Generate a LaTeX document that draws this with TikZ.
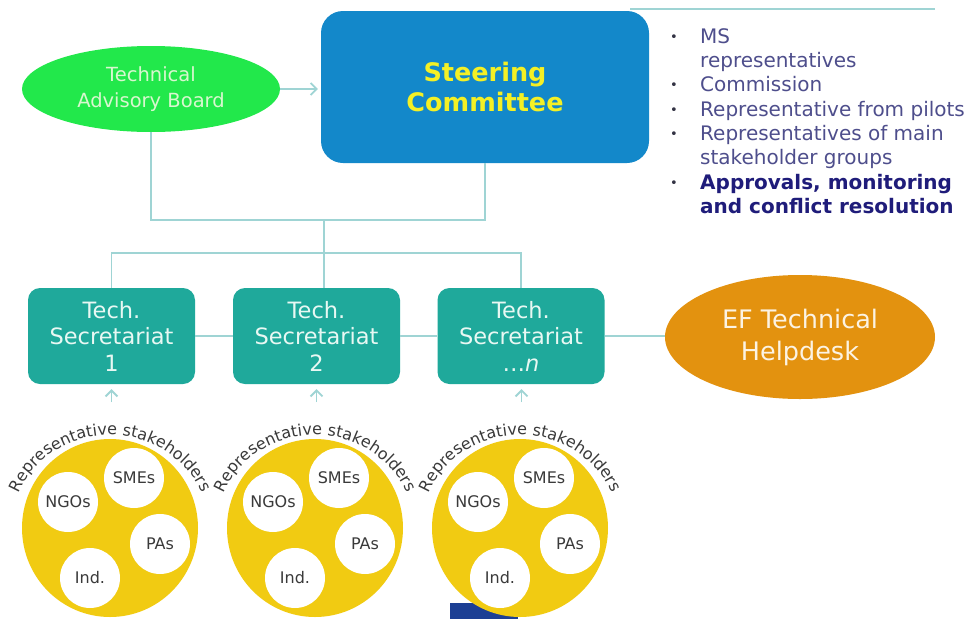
\documentclass[tikz,border=0pt]{standalone}
\usepackage{fontspec}
\setmainfont{DejaVu Sans}
\usetikzlibrary{arrows.meta,shapes.geometric,decorations.text}
\definecolor{connC}{HTML}{9FD4D4}
\definecolor{tabC}{HTML}{22E84B}
\definecolor{tabText}{HTML}{D9F7CF}
\definecolor{scC}{HTML}{1388CA}
\definecolor{scText}{HTML}{F4F025}
\definecolor{tsC}{HTML}{1FA99B}
\definecolor{tsText}{HTML}{E8F8F3}
\definecolor{hdC}{HTML}{E3920F}
\definecolor{hdText}{HTML}{FCF3E3}
\definecolor{bulC}{HTML}{4E4E8C}
\definecolor{boldC}{HTML}{1F1C7A}
\definecolor{dotC}{HTML}{333344}
\definecolor{yelC}{HTML}{F1CB12}
\definecolor{stkText}{HTML}{3A3A3A}
\definecolor{flagC}{HTML}{1C3F94}
\newcommand\rsfont{\fontsize{16}{16}\selectfont\color{stkText}}
\newcommand\bulmark{\makebox[30pt][l]{\raisebox{2pt}{\fontsize{13}{13}\selectfont\color{dotC}•}}}
\newcommand\nobul{\makebox[30pt][l]{}}
\begin{document}
\begin{tikzpicture}[x=1pt,y=1pt,
  connector/.style={draw=connC, line width=1.8pt},
  uptip/.style={-{Straight Barb[length=6pt,width=12pt]}},
  tsbox/.style={rectangle, rounded corners=12pt, fill=tsC, minimum width=167pt,
    minimum height=96pt, text=tsText, align=center, inner sep=0pt,
    font=\fontsize{22.5}{26.5}\selectfont},
  yellowell/.style={ellipse, fill=yelC, minimum width=176pt, minimum height=178pt, inner sep=0pt},
  whitec/.style={circle, fill=white, minimum size=60pt, inner sep=0pt, text=stkText,
    font=\fontsize{16}{16}\selectfont}
]
\useasboundingbox (0,0) rectangle (970,-619);
\fill[white] (0,0) rectangle (970,-619);

% top line behind steering committee
\coordinate (tl1) at (630,-9);
\coordinate (tl2) at (935,-9);
\draw[connector] (tl1) -- (tl2);

% main nodes
\node[ellipse, fill=tabC, minimum width=258pt, minimum height=86pt, inner sep=0pt,
  text=tabText, align=center, font=\fontsize{19.5}{26}\selectfont] (tab) at (151,-89)
  {Technical\\Advisory Board};
\node[rectangle, rounded corners=22pt, fill=scC, minimum width=328pt, minimum height=152pt,
  inner sep=0pt, text=scText, align=center, font=\bfseries\fontsize{25.5}{30}\selectfont]
  (sc) at (485,-87) {Steering\\Committee};

\node[tsbox] (ts1) at (111.5,-336) {Tech.\\Secretariat\\1};
\node[tsbox] (ts2) at (316.5,-336) {Tech.\\Secretariat\\2};
\node[tsbox] (tsn) at (521,-336) {Tech.\\Secretariat\\…\textit{n}};

\node[ellipse, fill=hdC, minimum width=270pt, minimum height=124pt, inner sep=0pt,
  text=hdText, align=center, font=\fontsize{25.5}{32}\selectfont] (hd) at (800,-337)
  {EF Technical\\Helpdesk};

% bullets
\node[anchor=north west, inner sep=0pt, text=bulC, font=\fontsize{20}{24.3}\selectfont]
  (bul) at (670,-26) {\begin{tabular}{@{}l@{}}
\bulmark MS\\
\nobul representatives\\
\bulmark Commission\\
\bulmark Representative from pilots\\
\bulmark Representatives of main\\
\nobul stakeholder groups\\
\bulmark \textbf{\color{boldC}Approvals, monitoring}\\
\nobul \textbf{\color{boldC}and conflict resolution}
\end{tabular}};

% connectors
\coordinate (j1) at (324,-220);
\coordinate (j2) at (324,-253);
\draw[connector, uptip, shorten >=3pt] (tab.east) -- (tab.east -| sc.west);
\draw[connector] (tab.south) |- (j1) -| (sc.south);
\draw[connector] (j1) -- (j1 |- ts2.north);
\draw[connector] (ts1.north) |- (j2) -| (tsn.north);
\draw[connector] (ts1.east) -- (ts2.west);
\draw[connector] (ts2.east) -- (tsn.west);
\draw[connector] (tsn.east) -- (tsn.east -| hd.west);

% flag fragment at the bottom
\fill[flagC] (450,-603) rectangle (518,-619);

% stakeholder groups
\foreach \i/\cx/\tsn in {1/110/ts1,2/315/ts2,3/520/tsn}{
  \coordinate (a\i) at (\cx+1.5,-402);
  \draw[connector, uptip, shorten >=5pt] (a\i) -- (a\i |- \tsn.south);
  \begin{scope}[shift={(\cx,-528)}]
    \node[yellowell] (y\i) at (0,0) {};
    \node[whitec] (ngo\i) at (-42,26) {NGOs};
    \node[whitec] (sme\i) at (24,50) {SMEs};
    \node[whitec] (pa\i) at (50,-16) {PAs};
    \node[whitec] (ind\i) at (-20,-50) {Ind.};
    \path[decorate, decoration={text along path, text align=center,
      text={|\rsfont|Representative stakeholders}}]
      (165:99 and 93) arc[start angle=165, end angle=15, x radius=99, y radius=93];
  \end{scope}
}
\end{tikzpicture}
\end{document}
